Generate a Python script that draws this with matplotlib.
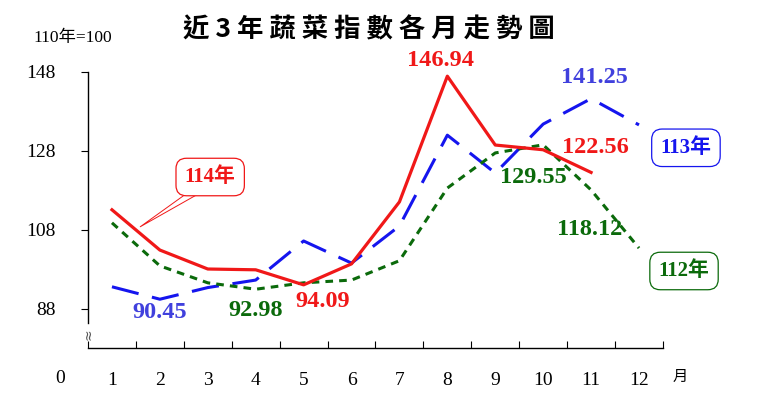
import matplotlib
matplotlib.use('Agg')
import matplotlib.pyplot as plt

months = list(range(1, 13))
y114 = [113.1, 102.9, 98.1, 97.9, 94.09, 99.4, 115.1, 146.94, 129.5, 128.3, 122.56]
y113 = [93.6, 90.45, 93.4, 95.3, 105.2, 99.6, 109.0, 132.0, 122.4, 134.8, 141.25, 134.6]
y112 = [109.8, 98.9, 94.6, 92.98, 94.6, 95.3, 100.2, 118.6, 127.5, 129.55, 118.12, 103.4]
yticks = [88, 108, 128, 148]

RED = '#f01818'
BLUE = '#1515ee'
BLUE_TXT = '#4040dd'
GREEN = '#0b6a0b'
SERIF = ['Liberation Serif', 'Noto Sans CJK TC']

fig = plt.figure(figsize=(7.62, 3.94), dpi=100)
ax = fig.add_axes([0.1155, 0.1168, 0.7545, 0.7005])

ax.plot(months[:len(y113)], y113, color=BLUE, lw=2.2, dashes=(9, 4.5), zorder=3)
ax.plot(months[:len(y112)], y112, color=GREEN, lw=2.2, dashes=(2.5, 2), zorder=3)
ax.plot(months[:len(y114)], y114, color=RED, lw=2.3, zorder=4)

ax.set_xlim(0.5, 12.5)
ax.set_ylim(78.1, 148)

for s in ['top', 'right']:
    ax.spines[s].set_visible(False)
ax.spines['left'].set_bounds(84.5, 148)
ax.spines['left'].set_linewidth(1.0)
ax.spines['bottom'].set_linewidth(1.0)

ax.set_yticks(yticks)
ax.set_yticklabels([str(v) for v in yticks], family='Liberation Serif', fontsize=14)
ax.tick_params(axis='y', direction='out', length=5, pad=18)

ax.set_xticks([m - 0.5 for m in months] + [12.5])
ax.set_xticklabels([])
ax.tick_params(axis='x', which='major', direction='in', length=5)
ax.set_xticks(months, minor=True)
ax.set_xticklabels([str(m) for m in months], minor=True, family='Liberation Serif', fontsize=14)
ax.tick_params(axis='x', which='minor', length=0, pad=17)

# axis break mark
ax.text(0.5, 81.6, '≈', rotation=90, ha='center', va='center', fontsize=10, color='#555555',
        family='DejaVu Sans', clip_on=False)

lab = dict(fontsize=17.5, fontweight='bold', family=SERIF, ha='center', va='center', clip_on=False, zorder=6)
ax.text(7.85, 151.0, '146.94', color=RED, **lab)
ax.text(11.08, 146.5, '141.25', color=BLUE_TXT, **lab)
ax.text(11.1, 128.8, '122.56', color=RED, **lab)
ax.text(9.79, 121.2, '129.55', color=GREEN, **lab)
ax.text(10.98, 108.0, '118.12', color=GREEN, **lab)
ax.text(2.0, 87.0, '90.45', color=BLUE_TXT, **lab)
ax.text(3.99, 87.7, '92.98', color=GREEN, **lab)
ax.text(5.4, 89.8, '94.09', color=RED, **lab)

box = dict(fontsize=15, fontweight='bold', family=SERIF, ha='center', va='center', clip_on=False, zorder=6)
ax.text(3.05, 121.4, '114年', color=RED,
        bbox=dict(boxstyle='round,pad=0.42,rounding_size=0.5', fc='white', ec=RED, lw=0.9), **box)
ax.plot([2.52, 1.59, 2.77], [116.9, 108.8, 116.9], color=RED, lw=0.7, zorder=5)
ax.text(12.98, 128.8, '113年', color=BLUE,
        bbox=dict(boxstyle='round,pad=0.42,rounding_size=0.5', fc='white', ec=BLUE, lw=0.9), **box)
ax.text(12.94, 97.6, '112年', color=GREEN,
        bbox=dict(boxstyle='round,pad=0.42,rounding_size=0.5', fc='white', ec=GREEN, lw=0.9), **box)

fig.text(0.484, 0.925, '近 3 年 蔬 菜 指 數 各 月 走 勢 圖', ha='center', va='center', fontsize=19,
         fontweight='bold', family=['Noto Sans CJK TC', 'DejaVu Sans'])
fig.text(0.096, 0.903, '110年=100', ha='center', va='center', fontsize=12.5, family=SERIF)
fig.text(0.079, 0.04, '0', ha='center', va='center', fontsize=14, family='Liberation Serif')
fig.text(0.893, 0.045, '月', ha='center', va='center', fontsize=11, family='Noto Sans CJK TC')

fig.savefig('out.png', dpi=100)
